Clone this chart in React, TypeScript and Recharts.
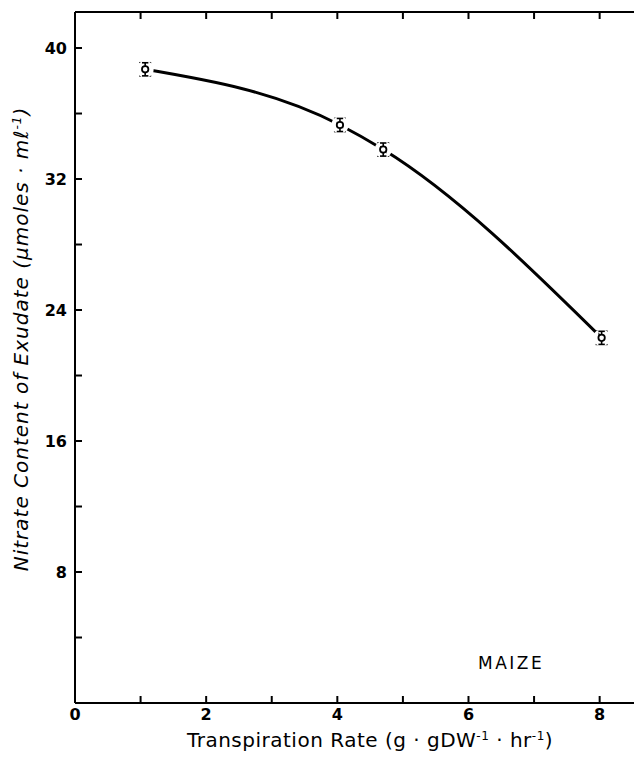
import React from "react";
import { ComposedChart, Line, XAxis, YAxis, ErrorBar, ReferenceDot } from "recharts";

const transpiration = [1.07, 4.04, 4.7, 8.03];
const nitrate = [38.7, 35.3, 33.8, 22.3];
const nitrateErr = [0.4, 0.4, 0.4, 0.4];
const xTicks = [0, 1, 2, 3, 4, 5, 6, 7, 8];
const yTicks = [0, 4, 8, 12, 16, 20, 24, 28, 32, 36, 40];
const xLabeled = [0, 2, 4, 6, 8];
const yLabeled = [8, 16, 24, 32, 40];

const data = transpiration.map((x, i) => ({ x, y: nitrate[i], err: nitrateErr[i] }));

const FONT = "'DejaVu Sans', 'Liberation Sans', sans-serif";
const TL = 7;

const BottomTick = (p: any) => {
  const v = p.payload.value;
  return (
    <g>
      {v > 0 && <line x1={p.x} x2={p.x} y1={p.y} y2={p.y - TL} stroke="#000" strokeWidth={2} />}
      {xLabeled.includes(v) && (
        <text x={p.x} y={p.y + 17} textAnchor="middle" fontFamily={FONT} fontSize={16} fontWeight="bold" fill="#000">
          {v}
        </text>
      )}
    </g>
  );
};
const TopTick = (p: any) => {
  const v = p.payload.value;
  if (v <= 0) return <g />;
  return <line x1={p.x} x2={p.x} y1={p.y} y2={p.y + TL} stroke="#000" strokeWidth={2} />;
};
const LeftTick = (p: any) => {
  const v = p.payload.value;
  return (
    <g>
      {v > 0 && <line x1={p.x} x2={p.x + TL} y1={p.y} y2={p.y} stroke="#000" strokeWidth={2} />}
      {yLabeled.includes(v) && (
        <text x={p.x - 8} y={p.y + 6} textAnchor="end" fontFamily={FONT} fontSize={16} fontWeight="bold" fill="#000">
          {v}
        </text>
      )}
    </g>
  );
};
const RightTick = (p: any) => {
  const v = p.payload.value;
  if (v <= 0) return <g />;
  return <line x1={p.x} x2={p.x - TL} y1={p.y} y2={p.y} stroke="#000" strokeWidth={2} />;
};

// white gap around each marker (split so the error bar stays visible), then the open circle
const Marker = (p: any) => {
  const { cx, cy } = p;
  if (cx == null || cy == null) return <g />;
  const R = 8.5;
  const w = 3.2;
  const h = Math.sqrt(R * R - w * w);
  return (
    <g>
      <path
        d={`M${cx - w},${cy - h} A${R},${R} 0 0 0 ${cx - w},${cy + h} Z M${cx + w},${cy - h} A${R},${R} 0 0 1 ${cx + w},${cy + h} Z`}
        fill="#fff"
        stroke="none"
      />
      <circle cx={cx} cy={cy} r={3.2} fill="#fff" stroke="#000" strokeWidth={1.8} />
    </g>
  );
};

const YTitle = () => (
  <text
    transform="translate(28,339) rotate(-90)"
    textAnchor="middle"
    fontFamily={FONT}
    fontSize={20}
    letterSpacing={1}
    fontStyle="italic"
    fill="#000"
  >
    Nitrate Content of Exudate (μmoles · mℓ
    <tspan dy={-7} fontSize={12}>-1</tspan>
    <tspan dy={7}>)</tspan>
  </text>
);
const XTitle = () => (
  <text x={370} y={747} textAnchor="middle" fontFamily={FONT} fontSize={20} letterSpacing={0.5} fill="#000">
    Transpiration Rate (g · gDW
    <tspan dy={-7} fontSize={12}>-1</tspan>
    <tspan dy={7}> · hr</tspan>
    <tspan dy={-7} fontSize={12}>-1</tspan>
    <tspan dy={7}>)</tspan>
  </text>
);

export default function App() {
  return (
    <div style={{ position: "absolute", left: 0, top: 0, background: "#fff" }}>
      <ComposedChart
        width={660}
        height={770}
        data={data}
        margin={{ top: 11, left: 74, right: 20, bottom: 66 }}
      >
        <XAxis
          xAxisId="b"
          dataKey="x"
          type="number"
          domain={[0, 8.6]}
          ticks={xTicks}
          height={1}
          tickSize={0}
          tickMargin={0}
          tick={<BottomTick />}
          axisLine={{ stroke: "#000", strokeWidth: 2 }}
          label={{ content: () => <XTitle /> }}
        />
        <XAxis
          xAxisId="t"
          orientation="top"
          dataKey="x"
          type="number"
          domain={[0, 8.6]}
          ticks={xTicks}
          height={1}
          tickSize={0}
          tickMargin={0}
          tick={<TopTick />}
          axisLine={{ stroke: "#000", strokeWidth: 2 }}
        />
        <YAxis
          yAxisId="l"
          type="number"
          domain={[0, 42.2]}
          ticks={yTicks}
          width={1}
          tickSize={0}
          tickMargin={0}
          tick={<LeftTick />}
          axisLine={{ stroke: "#000", strokeWidth: 2 }}
          label={{ content: () => <YTitle /> }}
        />
        <YAxis
          yAxisId="r"
          orientation="right"
          type="number"
          domain={[0, 42.2]}
          ticks={yTicks}
          width={1}
          tickSize={0}
          tickMargin={0}
          tick={<RightTick />}
          axisLine={{ stroke: "#000", strokeWidth: 2 }}
        />
        <Line
          xAxisId="b"
          yAxisId="l"
          dataKey="y"
          type="monotoneX"
          stroke="#000"
          strokeWidth={3}
          dot={<Marker />}
          activeDot={false}
          isAnimationActive={false}
        >
          <ErrorBar dataKey="err" direction="y" width={6} stroke="#000" strokeWidth={1.6} />
        </Line>
        <ReferenceDot
          xAxisId="b"
          yAxisId="l"
          x={6.65}
          y={2.45}
          r={0}
          label={{ value: "MAIZE", fontFamily: FONT, fontSize: 17, letterSpacing: 2.5, fill: "#000", position: "center" }}
        />
      </ComposedChart>
    </div>
  );
}
